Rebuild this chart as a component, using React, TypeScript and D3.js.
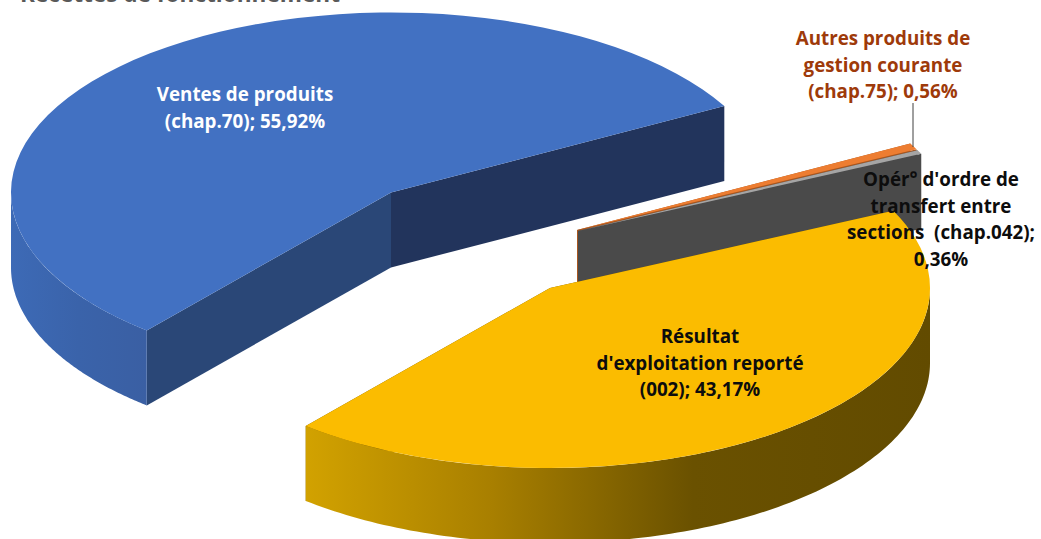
import React from "react";
import * as d3 from "d3";

// Budget share per chapter, in percent, clockwise order around the pie.
const categories = [
  "Ventes de produits (chap.70)",
  "Autres produits de gestion courante (chap.75)",
  "Opér° d'ordre de transfert entre sections (chap.042)",
  "Résultat d'exploitation reporté (002)",
];
const shares = [55.92, 0.56, 0.36, 43.17];
const topColors = ["#4271c2", "#ed7d31", "#a5a5a5", "#fbbc00"];
const cutColors = ["#2a4777", "#a8561f", "#4a4a4a", "#6b5200"];
const closingCutColors = ["#22345c", "#a8561f", "#4a4a4a", "#6b5200"];
const sliceCentres: [number, number][] = [
  [391, 192.5],
  [577, 230],
  [578, 231],
  [550, 288],
];
const labelLines = [
  ["Ventes de produits", "(chap.70); 55,92%"],
  ["Autres produits de", "gestion courante", "(chap.75); 0,56%"],
  ["Opér° d'ordre de", "transfert entre", "sections  (chap.042);", "0,36%"],
  ["Résultat", "d'exploitation reporté", "(002); 43,17%"],
];
const labelAnchors: [number, number][] = [
  [245, 101],
  [883, 45],
  [941, 186],
  [700, 343],
];
const labelColors = ["#ffffff", "#9e3a0a", "#0d0d0d", "#0d0d0d"];
const labelStep = 26.5;

const width = 1041;
const height = 539;
const rx = 380;
const ry = 180;
const depth = 75;
const firstAngle = (220 * Math.PI) / 180;

const slices = d3
  .pie<number>()
  .sort(null)
  .value((d) => d)
  .startAngle(firstAngle)
  .endAngle(firstAngle + 2 * Math.PI)(shares);

// Circular arc flattened into an ellipse through the group's scale transform.
const topArc = d3.arc<d3.PieArcDatum<number>>().innerRadius(0).outerRadius(rx);

const edge = (centre: [number, number], angle: number): [number, number] => [
  centre[0] + rx * Math.sin(angle),
  centre[1] - ry * Math.cos(angle),
];

// Outer rim of a slice, limited to the half of the ellipse facing the viewer.
function rimPath(centre: [number, number], a0: number, a1: number): string | null {
  const tau = 2 * Math.PI;
  const windows = [
    [Math.PI / 2, (3 * Math.PI) / 2],
    [Math.PI / 2 + tau, (3 * Math.PI) / 2 + tau],
  ];
  const parts: string[] = [];
  for (const [w0, w1] of windows) {
    const lo = Math.max(a0, w0);
    const hi = Math.min(a1, w1);
    if (hi <= lo) continue;
    const angles = d3.range(0, 121).map((i) => lo + ((hi - lo) * i) / 120);
    const area = d3
      .area<number>()
      .x((a) => edge(centre, a)[0])
      .y0((a) => edge(centre, a)[1])
      .y1((a) => edge(centre, a)[1] + depth);
    parts.push(area(angles) ?? "");
  }
  return parts.length ? parts.join("") : null;
}

// Flat wall rising from the apex to the rim along one cut of the slice.
function cutPath(centre: [number, number], angle: number): string {
  const [x, y] = edge(centre, angle);
  const line = d3.line();
  return (
    line([
      centre,
      [x, y],
      [x, y + depth],
      [centre[0], centre[1] + depth],
    ]) + "Z"
  );
}

const rimFill = ["url(#rimBlue)", "#a8561f", "#6e6e6e", "url(#rimGold)"];

export default function App() {
  return (
    <svg
      width={width}
      height={height}
      viewBox={`0 0 ${width} ${height}`}
      style={{ position: "absolute", left: 0, top: 0, background: "#ffffff" }}
      fontFamily="'Open Sans', sans-serif"
      fontWeight={700}
    >
      <defs>
        <linearGradient id="rimBlue" gradientUnits="userSpaceOnUse" x1={11} x2={147} y1={0} y2={0}>
          <stop offset="0" stopColor="#3d6ab6" />
          <stop offset="0.5" stopColor="#3a63aa" />
          <stop offset="1" stopColor="#3a5fa3" />
        </linearGradient>
        <linearGradient id="rimGold" gradientUnits="userSpaceOnUse" x1={305} x2={931} y1={0} y2={0}>
          <stop offset="0" stopColor="#d2a200" />
          <stop offset="0.3" stopColor="#a87f00" />
          <stop offset="0.62" stopColor="#6a5100" />
          <stop offset="1" stopColor="#624b00" />
        </linearGradient>
      </defs>

      <text x={20} y={2} fontSize={22.6} fill="#595959">
        Recettes de fonctionnement
      </text>

      {slices.map((s, i) => {
        const c = sliceCentres[i];
        const rim = rimPath(c, s.startAngle, s.endAngle);
        return (
          <g key={categories[i]}>
            <path d={cutPath(c, s.startAngle)} fill={cutColors[i]} />
            <path d={cutPath(c, s.endAngle)} fill={closingCutColors[i]} />
            {rim && <path d={rim} fill={rimFill[i]} />}
            <path
              d={topArc(s) ?? ""}
              transform={`translate(${c[0]},${c[1]}) scale(1,${ry / rx})`}
              fill={topColors[i]}
            />
          </g>
        );
      })}

      <line x1={913} x2={913} y1={103} y2={147} stroke="#404040" strokeWidth={1} />

      {labelLines.map((lines, i) => (
        <text
          key={categories[i]}
          textAnchor="middle"
          fontSize={18.8}
          fill={labelColors[i]}
          style={{ whiteSpace: "pre" }}
        >
          {lines.map((t, j) => (
            <tspan key={j} x={labelAnchors[i][0]} y={labelAnchors[i][1] + j * labelStep}>
              {t}
            </tspan>
          ))}
        </text>
      ))}
    </svg>
  );
}
